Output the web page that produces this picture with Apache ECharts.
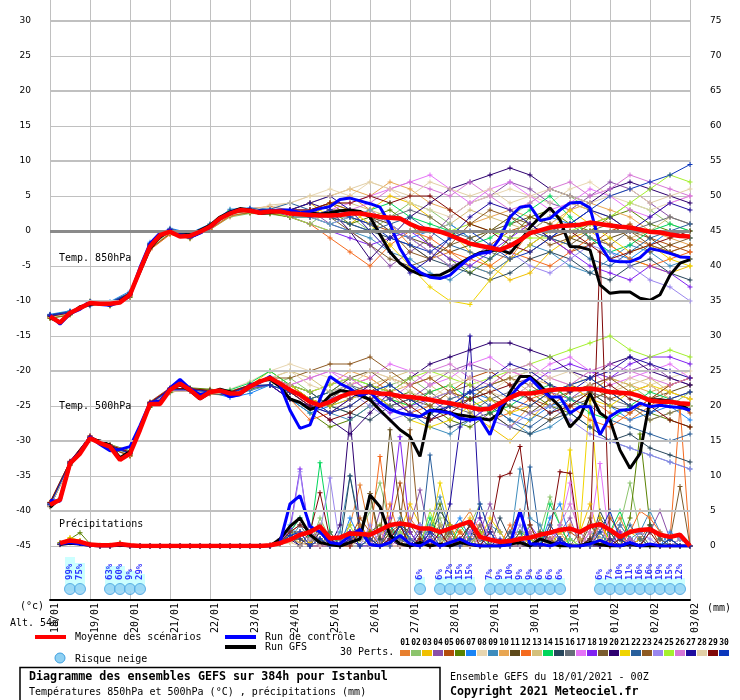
<!DOCTYPE html>
<html>
<head>
<meta charset="utf-8">
<script src="https://cdn.jsdelivr.net/npm/echarts@6/dist/echarts.min.js"></script>
<style>html,body{margin:0;padding:0;background:#fff}#main{width:740px;height:700px}</style>
</head>
<body>
<div id="main"></div>
<script>
// échéances en heures
var heures6 = [0,6,12,18,24,30,36,42,48,54,60,66,72,78,84,90,96,102,108,114,120,126,132,138,144,150,156,162,168,174,180,186,192,198,204,210,216,222,228,234,240,246,252,258,264,270,276,282,288,294,300,306,312,318,324,330,336,342,348,354,360,366,372,378,384];
var heures12 = [0,12,24,36,48,60,72,84,96,108,120,132,144,156,168,180,192,204,216,228,240,252,264,276,288,300,312,324,336,348,360,372,384];
var dates = ['18/01','19/01','20/01','21/01','22/01','23/01','24/01','25/01','26/01','27/01','28/01','29/01','30/01','31/01','01/02','02/02','03/02'];

var couleurs = ['#e77f2f','#8cc46c','#f0c000','#8b4fa8','#b34d0b','#5a8200','#1a84f5','#e8d6b0','#3d8cbd','#e8a652',
  '#5e4a1a','#f56a1e','#d4c07c','#00d65a','#27465c','#666e78','#e574f7','#8022f0','#7a5c2e','#2e0070',
  '#f0d400','#285f9c','#8e5a22','#9a86ee','#a4f02e','#d676d6','#1e0c9e','#e2cfa6','#800808','#0a37bc'];

// T850 (toutes les 6h)
var t850Moy = [-12.2,-13.1,-11.7,-11.0,-10.3,-10.4,-10.4,-10.2,-9.1,-5.6,
  -2.2,-0.6,-0.1,-0.8,-0.7,-0.1,0.6,1.8,2.5,3.0,
  2.9,2.6,2.8,2.8,2.5,2.4,2.3,2.2,2.2,2.3,
  2.5,2.5,2.3,2.0,1.9,1.8,1.0,0.4,0.2,-0.1,
  -0.6,-1.2,-1.8,-2.1,-2.4,-2.7,-2.1,-1.3,-0.3,0.1,
  0.5,0.7,0.8,0.9,1.2,1.0,0.8,0.6,0.5,0.2,
  -0.1,-0.2,-0.5,-0.7,-0.8];
var t850Ctrl = [-12.0,-13.3,-11.8,-11.2,-10.0,-10.5,-10.6,-10.2,-9.3,-5.2,
  -1.8,-0.3,0.1,-0.6,-0.9,-0.3,0.5,1.7,2.6,3.0,
  2.9,2.7,2.9,3.0,3.0,2.6,2.8,3.2,3.5,4.5,
  4.7,4.3,3.9,3.4,1.0,-2.5,-4.8,-5.9,-6.6,-6.8,
  -6.3,-5.0,-3.8,-3.2,-3.0,-1.0,2.0,3.4,3.6,1.5,
  1.8,3.0,4.0,4.1,3.3,-2.0,-4.2,-4.4,-4.4,-3.8,
  -2.5,-2.8,-3.2,-3.7,-3.8];
var t850Gfs = [-12.4,-13.0,-11.9,-10.8,-10.5,-10.2,-10.6,-10.0,-9.0,-5.8,
  -2.5,-0.8,0.0,-0.6,-0.5,0.1,0.8,2.0,2.7,3.2,
  3.0,2.5,2.6,2.9,2.7,2.5,2.6,2.4,2.6,2.9,
  3.0,2.8,2.0,-0.5,-3.0,-4.6,-5.6,-6.2,-6.4,-6.3,
  -5.6,-4.6,-3.8,-3.1,-2.8,-2.7,-3.2,-1.5,0.5,2.0,
  3.3,1.6,-2.2,-2.3,-2.7,-7.7,-8.9,-8.7,-8.7,-9.6,
  -9.9,-9.1,-6.3,-4.6,-4.1];

// T500 (toutes les 6h)
var t500Moy = [-39.1,-38.4,-33.2,-31.8,-29.6,-30.3,-30.8,-32.7,-31.8,-28.4,
  -24.7,-24.7,-22.7,-21.8,-22.7,-23.9,-23.0,-22.8,-23.2,-23.2,
  -22.2,-21.5,-21.0,-21.8,-22.7,-23.4,-24.4,-24.9,-24.4,-23.7,
  -23.2,-23.0,-23.0,-23.2,-23.3,-23.6,-23.7,-23.9,-24.1,-24.4,
  -24.6,-24.9,-25.2,-25.5,-25.4,-24.6,-23.8,-23.2,-23.2,-23.0,
  -22.7,-22.6,-22.6,-22.6,-22.5,-22.7,-23.0,-23.1,-23.2,-23.6,
  -24.2,-24.4,-24.4,-24.6,-24.7];
var t500Ctrl = [-38.5,-38.6,-33.0,-31.6,-29.4,-30.5,-31.4,-31.2,-30.8,-27.8,
  -24.5,-24.3,-22.4,-21.2,-22.5,-23.4,-23.0,-22.9,-23.7,-23.4,
  -22.0,-21.6,-20.8,-22.0,-25.6,-28.2,-27.7,-24.0,-20.8,-21.8,
  -22.5,-23.5,-23.0,-24.5,-25.5,-26.0,-26.3,-26.5,-25.6,-25.8,
  -26.0,-26.8,-27.0,-26.8,-29.1,-25.1,-23.7,-22.0,-21.0,-22.5,
  -23.7,-23.7,-26.0,-25.1,-25.1,-29.1,-26.5,-25.6,-25.5,-24.6,
  -25.1,-24.9,-25.1,-25.2,-25.6];
var t500Gfs = [-39.5,-38.2,-33.4,-31.5,-29.8,-30.0,-30.6,-32.4,-31.5,-28.0,
  -24.9,-24.5,-22.5,-22.0,-22.8,-24.0,-23.1,-22.6,-23.0,-23.3,
  -22.3,-21.4,-21.2,-22.2,-24.0,-24.5,-25.5,-25.0,-23.5,-22.8,
  -23.0,-23.5,-24.1,-25.6,-27.0,-28.4,-29.4,-32.2,-25.6,-25.6,
  -26.0,-26.3,-26.5,-26.8,-27.0,-26.0,-23.0,-20.8,-20.8,-22.0,
  -23.7,-25.1,-28.0,-26.5,-23.2,-26.0,-27.0,-31.3,-33.9,-31.8,
  -24.1,-24.1,-24.3,-24.8,-25.6];

// précipitations (mm / 6h, de 6h à 384h)
var precMoy = [0.4,0.8,0.6,0.2, 0.1,0.1,0.3,0.1, 0,0,0,0, 0,0,0,0, 0,0,0,0, 0,0.1,0.4,0.9,
  1.6,2.0,2.8,1.1, 1.2,1.8,1.7,1.6, 2.3,3.0,3.2,3.0, 2.5,2.5,2.0,2.5, 3.0,3.5,1.3,0.9,
  0.6,0.7,1.0,1.2, 1.6,1.9,2.3,2.5, 2.0,2.8,3.1,2.3, 1.3,2.0,2.3,2.4, 1.6,1.3,1.6,0.0];
var precCtrl = [0.3,0.5,0.3,0.1, 0,0,0.2,0, 0,0,0,0, 0,0,0,0, 0,0,0,0, 0,0,0.5,6.0,
  7.2,2.8,2.0,0.5, 0.3,1.5,2.4,0.2, 0,0.5,1.5,0.3, 0,0.8,0,0.5, 1,0.3,0,0,
  0,0.2,5.0,0.3, 0.3,0,0.5,0, 0,0.3,0.8,0.2, 0,0.5,0,0.3, 0,0,0,0];
var precGfs = [0.2,0.4,0.3,0.1, 0,0,0.1,0, 0,0,0,0, 0,0,0,0, 0,0,0,0, 0,0,1.0,2.8,
  4.0,1.6,0.5,0.2, 0,0.5,1.0,7.3, 5.6,1.5,0.3,0, 0.5,0,0.3,0, 0.5,0.2,0,0,
  0,0.3,0.5,0, 1,0.5,0,0, 0,0.5,0.2,0, 0,0.3,0,0, 0,0,0,0];

// 30 perturbations, T850 toutes les 12h
var t850Perts = [
 [-12.0,-11.5,-10.6,-10.2,-8.8,-2.5,0.3,-0.5,1.0,3.0,3.2,3.5, 3,2,4,5,3,1,-2,-4,-3,-5,-6,-4,0,2,4,3,1,-1,-2,-3,-2],
 [-12.4,-11.9,-10.1,-10.6,-9.4,-2.0,-0.3,-1.0,0.2,2.0,2.5,2.4, 2,1,3,2,0,2,4,3,1,-1,0,2,4,6,5,3,2,4,3,1,0],
 [-12.1,-11.6,-10.4,-10.3,-9.0,-1.8,0.2,-0.4,0.9,2.8,3.1,3.0, 3,4,2,1,3,5,4,2,0,-3,-5,-7,-6,-3,-1,0,-2,-4,-5,-6,-5],
 [-12.3,-11.8,-10.2,-10.5,-9.2,-2.4,-0.2,-0.8,0.5,2.4,2.8,2.7, 2,3,1,0,-2,-5,-3,-1,2,4,5,7,6,4,3,5,7,6,4,2,1],
 [-12.2,-11.7,-10.5,-10.4,-9.1,-2.1,0.0,-0.6,0.7,2.6,3.0,2.9, 3,3,4,2,1,0,-1,-3,-5,-4,-2,0,1,-1,-3,-2,0,1,-1,-2,-3],
 [-12.5,-12.0,-10.0,-10.7,-9.5,-2.6,-0.4,-1.1,0.3,2.2,2.6,2.5, 2,2,3,1,2,3,1,-2,-4,-6,-4,-1,2,3,1,0,2,3,1,0,-1],
 [-11.9,-11.4,-10.7,-10.1,-8.6,-1.6,0.4,-0.3,1.0,3.1,3.3,3.1, 3,2,2,3,2,0,-1,0,1,-1,-3,-2,0,2,1,-1,-3,-4,-2,0,-1],
 [-12.2,-11.8,-10.3,-10.5,-9.1,-2.3,0.1,-0.7,0.6,2.7,3.2,3.4, 4,5,6,5,7,6,4,3,2,4,5,6,5,4,6,7,5,4,3,4,5],
 [-12.0,-11.6,-10.5,-10.2,-9.0,-2.0,0.0,-0.6,0.8,2.5,2.9,2.8, 2,2,1,0,-1,-3,-4,-6,-7,-5,-6,-4,-2,-3,-5,-6,-4,-2,-3,-5,-4],
 [-12.3,-11.7,-10.4,-10.4,-9.3,-2.2,-0.2,-0.8,0.5,2.4,2.9,2.9, 3,4,5,6,5,7,6,4,3,1,2,3,2,1,3,4,3,2,0,-1,-2],
 [-12.1,-11.7,-10.3,-10.3,-9.0,-2.1,0.0,-0.6,0.7,2.6,3.0,2.8, 3,2,3,3,2,1,-1,-2,-3,-2,0,1,2,1,-1,-2,-1,0,-1,-3,-4],
 [-12.4,-11.9,-10.6,-10.6,-9.4,-2.7,-0.5,-1.0,0.2,2.1,2.7,2.6, 2,1,-1,-3,-5,-2,0,-1,-3,-4,-5,-3,-4,-5,-3,-1,-2,-4,-5,-4,-3],
 [-12.2,-11.6,-10.3,-10.4,-9.1,-2.0,0.2,-0.5,0.8,2.7,3.0,2.9, 3,3,4,4,3,2,1,0,1,3,2,1,0,2,4,3,1,-1,0,2,1],
 [-12.0,-11.5,-10.5,-10.2,-8.9,-1.9,0.1,-0.6,0.9,2.9,3.1,3.0, 3,2,1,2,3,4,2,1,0,-2,-1,1,3,5,2,-1,-3,-2,0,1,0],
 [-12.3,-11.8,-10.2,-10.5,-9.2,-2.3,-0.1,-0.7,0.5,2.4,2.8,2.7, 2,3,2,1,0,-1,-2,-4,-5,-6,-7,-6,-4,-3,-4,-6,-7,-5,-4,-6,-7],
 [-12.1,-11.7,-10.4,-10.3,-9.0,-2.1,-0.1,-0.7,0.6,2.5,2.9,2.8, 3,3,2,2,1,2,3,2,0,-1,-3,-4,-2,0,1,-1,-2,0,1,2,1],
 [-12.2,-11.8,-10.3,-10.4,-9.2,-2.2,0.0,-0.7,0.6,2.6,3.0,2.9, 3,2,3,4,5,6,7,8,6,4,6,7,5,3,4,6,5,3,2,4,5],
 [-12.0,-11.6,-10.5,-10.3,-9.0,-1.9,0.1,-0.5,0.8,2.7,3.1,3.0, 2,1,0,-1,-2,-1,0,-2,-4,-5,-3,-1,1,-1,-3,-5,-6,-7,-5,-6,-8],
 [-12.3,-11.7,-10.2,-10.5,-9.2,-2.4,-0.2,-0.9,0.4,2.3,2.8,2.7, 3,3,2,0,-2,-4,-5,-4,-2,-1,0,2,1,-1,-2,0,1,-1,-3,-2,-1],
 [-12.1,-11.6,-10.4,-10.3,-9.0,-2.0,0.1,-0.6,0.7,2.6,3.0,2.9, 3,4,3,0,-4,-1,2,4,6,7,8,9,8,6,5,4,6,7,6,5,4],
 [-12.2,-11.7,-10.3,-10.4,-9.1,-2.2,0.0,-0.7,0.6,2.5,2.9,2.8, 3,2,4,3,1,-2,-5,-8,-10,-10.5,-7,-4,-2,0,3,1,-1,-3,-2,-4,-5],
 [-12.0,-11.5,-10.6,-10.2,-8.8,-1.8,0.3,-0.4,0.9,2.8,3.2,3.1, 4,3,2,1,0,1,2,0,-2,-3,-4,-2,0,-1,-2,-4,-5,-3,-1,0,1],
 [-12.4,-11.9,-10.2,-10.6,-9.3,-2.5,-0.3,-0.9,0.4,2.3,2.7,2.6, 2,3,4,3,2,0,-3,-4,-2,1,3,2,0,-2,-1,1,2,0,-2,-3,-2],
 [-12.1,-11.6,-10.4,-10.3,-9.0,-2.0,0.1,-0.6,0.7,2.6,3.0,2.9, 3,2,1,2,3,1,-1,-3,-5,-4,-2,-3,-5,-6,-4,-2,-3,-5,-7,-8,-10],
 [-12.3,-11.8,-10.3,-10.5,-9.2,-2.3,-0.1,-0.8,0.5,2.4,2.8,2.7, 2,1,0,0,0,0,0,0,0,1,0,-1,-1,-1,0,1,2,4,6,8,7],
 [-12.2,-11.7,-10.3,-10.4,-9.1,-2.1,0.0,-0.6,0.7,2.6,3.0,2.9, 3,3,2,3,4,6,7,6,5,7,5,3,4,6,7,5,6,8,7,6,5],
 [-12.0,-11.6,-10.5,-10.3,-8.9,-1.9,0.2,-0.5,0.8,2.7,3.1,3.0, 3,4,5,3,0,-3,-6,-4,-1,2,4,3,1,-1,1,3,2,0,2,4,3],
 [-12.3,-11.8,-10.2,-10.5,-9.3,-2.4,-0.2,-0.8,0.4,2.3,2.8,3.7, 4,5,5,6,7,6,5,7,6,5,6,4,5,6,5,4,5,6,4,5,6],
 [-12.2,-11.7,-10.4,-10.4,-9.1,-2.2,0.0,-0.7,0.6,2.5,2.9,2.8, 3,3,4,4,5,4,5,5,3,1,0,-2,-3,-1,0,-2,-4,-3,-2,-1,0],
 [-12.1,-11.6,-10.3,-10.3,-9.0,-2.1,0.0,-0.6,0.7,2.6,3.0,2.9, 3,2,3,2,1,-1,-2,-3,-1,0,-2,-4,-3,-1,1,3,5,6,7,8,9.5]
];

// 30 perturbations, T500 toutes les 12h
var t500Perts = [
 [-38.8,-33.0,-29.4,-31.0,-32.2,-24.5,-22.5,-22.9,-23.3,-23.5,-21.9, -21,-23,-25,-24,-22,-21,-23,-26,-27,-25,-24,-26,-28,-25,-23,-22,-24,-26,-27,-25,-23,-24],
 [-39.4,-33.4,-29.8,-30.6,-31.5,-25.0,-22.9,-22.5,-22.8,-23.0,-22.5, -22,-21,-23,-25,-26,-24,-22,-21,-23,-25,-24,-22,-21,-20,-22,-24,-23,-21,-22,-24,-25,-23],
 [-39.0,-33.1,-29.5,-30.9,-31.9,-24.6,-22.6,-22.6,-22.9,-23.1,-22.1, -20,-22,-24,-25,-23,-22,-24,-25,-23,-22,-26,-28,-30,-27,-24,-22,-21,-23,-25,-27,-26,-25],
 [-39.2,-33.3,-29.7,-30.7,-31.7,-24.8,-22.8,-22.8,-23.1,-23.4,-22.4, -21,-22,-23,-22,-21,-23,-25,-24,-22,-20,-19,-20,-22,-21,-23,-24,-22,-21,-20,-19,-21,-22],
 [-38.9,-33.0,-29.3,-31.1,-32.0,-24.4,-22.4,-22.6,-22.7,-22.9,-22.0, -21,-23,-24,-26,-25,-23,-21,-22,-24,-23,-21,-20,-22,-24,-25,-23,-22,-24,-23,-22,-24,-26],
 [-39.3,-33.5,-29.9,-30.5,-31.4,-25.2,-23.1,-22.4,-22.6,-23.3,-22.6, -22,-24,-26,-28,-27,-25,-24,-23,-25,-27,-28,-26,-24,-23,-25,-26,-24,-23,-25,-26,-27,-28],
 [-39.0,-33.2,-29.6,-30.8,-31.8,-24.7,-22.7,-22.7,-23.0,-23.8,-23.2, -22,-24,-26,-25,-24,-23,-22,-24,-26,-25,-23,-24,-26,-27,-25,-24,-23,-25,-27,-26,-25,-27],
 [-39.1,-33.3,-29.6,-30.8,-31.7,-24.6,-22.8,-22.8,-22.9,-22.6,-21.5, -20,-19,-20,-21,-22,-20,-21,-22,-21,-20,-22,-23,-21,-20,-21,-22,-20,-21,-23,-22,-21,-20],
 [-39.2,-33.1,-29.5,-30.9,-31.9,-24.8,-22.6,-22.8,-23.2,-23.5,-22.8, -22,-23,-25,-26,-27,-25,-24,-26,-28,-29,-27,-25,-27,-29,-28,-26,-28,-30,-31,-32,-33,-34],
 [-38.7,-33.0,-29.4,-30.6,-31.6,-24.5,-22.5,-22.5,-22.8,-23.0,-22.0, -21,-22,-23,-22,-20,-21,-23,-22,-21,-23,-24,-22,-20,-21,-22,-24,-23,-21,-22,-23,-22,-21],
 [-39.3,-33.4,-29.8,-31.0,-32.0,-24.9,-22.9,-22.9,-23.2,-23.4,-22.4, -21,-23,-24,-25,-23,-22,-23,-24,-26,-25,-24,-23,-25,-26,-24,-22,-23,-25,-26,-24,-23,-22],
 [-39.0,-33.2,-29.7,-30.8,-31.8,-24.7,-22.7,-22.6,-22.9,-23.1,-22.1, -22,-24,-27,-26,-24,-22,-24,-26,-25,-23,-25,-27,-26,-24,-23,-25,-27,-28,-26,-24,-22,-21],
 [-39.4,-33.5,-29.9,-30.6,-31.5,-24.9,-22.8,-22.8,-23.1,-23.2,-22.3, -21,-20,-21,-23,-24,-22,-21,-20,-22,-24,-23,-22,-21,-23,-24,-22,-21,-23,-22,-21,-23,-24],
 [-38.9,-33.1,-29.5,-30.9,-31.9,-24.6,-22.6,-22.6,-22.8,-22.7,-21.7, -20,-22,-24,-23,-21,-22,-24,-25,-23,-22,-24,-26,-25,-23,-22,-24,-26,-27,-25,-23,-24,-25],
 [-39.1,-33.2,-29.6,-30.8,-31.8,-24.7,-22.7,-22.7,-23.0,-23.3,-22.2, -21,-22,-23,-25,-26,-27,-25,-24,-26,-28,-27,-26,-28,-29,-27,-26,-28,-30,-29,-31,-32,-33],
 [-39.2,-33.3,-29.7,-30.7,-31.7,-24.7,-22.8,-22.8,-23.0,-23.1,-22.2, -21,-23,-25,-24,-22,-23,-25,-24,-23,-25,-26,-24,-23,-24,-26,-25,-23,-24,-25,-27,-26,-25],
 [-39.0,-33.1,-29.6,-30.8,-31.8,-24.6,-22.6,-22.7,-23.0,-23.2,-22.1, -21,-22,-21,-20,-22,-21,-19,-20,-22,-21,-19,-18,-20,-21,-19,-18,-20,-22,-21,-20,-19,-21],
 [-39.3,-33.4,-29.8,-30.7,-31.6,-24.8,-22.8,-22.9,-23.1,-23.3,-22.4, -22,-24,-25,-24,-23,-24,-26,-25,-24,-26,-27,-25,-24,-22,-20,-19,-20,-21,-19,-18,-18,-19],
 [-38.8,-33.0,-29.4,-31.0,-32.1,-24.5,-22.5,-22.5,-22.8,-23.0,-22.0, -21,-22,-24,-23,-21,-20,-22,-24,-25,-23,-22,-24,-25,-26,-27,-25,-24,-23,-25,-26,-24,-23],
 [-39.1,-33.2,-29.6,-30.8,-31.8,-24.7,-22.7,-22.7,-23.0,-23.2,-22.2, -21,-23,-25,-27,-29,-26,-23,-21,-19,-18,-17,-16,-16,-17,-18,-20,-21,-19,-18,-20,-21,-22],
 [-39.2,-33.3,-29.7,-30.9,-31.9,-24.8,-22.8,-22.8,-23.1,-23.3,-22.3, -21,-22,-24,-25,-24,-23,-25,-27,-28,-27,-25,-24,-26,-25,-23,-22,-24,-25,-23,-22,-23,-24],
 [-39.0,-33.1,-29.5,-30.7,-31.7,-24.6,-22.6,-22.6,-22.9,-23.1,-22.1, -22,-23,-24,-23,-22,-24,-25,-27,-26,-24,-23,-25,-27,-28,-26,-24,-25,-27,-28,-29,-30,-29],
 [-39.3,-33.4,-29.8,-30.9,-31.9,-24.9,-22.9,-22.8,-23.1,-23.2,-22.3, -21,-21,-20,-19,-19,-18,-20,-22,-21,-23,-24,-22,-21,-22,-24,-23,-22,-21,-23,-24,-22,-21],
 [-38.9,-33.0,-29.4,-30.6,-31.6,-24.5,-22.5,-22.6,-22.9,-23.1,-22.0, -21,-23,-25,-24,-23,-25,-27,-26,-24,-23,-25,-27,-28,-26,-25,-27,-29,-30,-31,-32,-33,-34],
 [-39.1,-33.2,-29.6,-30.8,-31.8,-24.7,-22.7,-22.7,-23.0,-23.2,-22.2, -21,-22,-23,-22,-21,-22,-23,-21,-20,-21,-22,-21,-20,-19,-18,-17,-16,-15,-17,-18,-17,-18],
 [-39.2,-33.3,-29.7,-30.8,-31.8,-24.8,-22.8,-22.8,-23.0,-23.2,-22.2, -21,-22,-21,-20,-21,-23,-24,-22,-20,-19,-21,-22,-20,-19,-21,-22,-20,-19,-20,-21,-22,-21],
 [-39.0,-33.1,-29.5,-30.7,-31.7,-24.6,-22.6,-22.6,-22.9,-23.1,-22.1, -22,-24,-25,-26,-24,-22,-24,-26,-27,-25,-23,-21,-19,-20,-22,-23,-21,-20,-18,-19,-20,-21],
 [-39.3,-33.4,-29.8,-30.9,-31.9,-24.9,-22.9,-22.9,-23.1,-23.3,-22.3, -21,-20,-22,-23,-22,-20,-21,-23,-24,-22,-21,-23,-24,-22,-21,-20,-22,-23,-21,-22,-24,-25],
 [-38.8,-32.9,-29.3,-30.6,-31.6,-24.5,-22.5,-22.5,-22.8,-23.0,-22.0, -21,-23,-25,-27,-26,-24,-23,-25,-27,-26,-24,-23,-22,-24,-26,-25,-23,-22,-24,-25,-27,-28],
 [-39.1,-33.2,-29.6,-30.8,-31.8,-24.7,-22.7,-22.7,-23.0,-23.2,-22.2, -22,-23,-24,-26,-25,-23,-22,-24,-26,-25,-23,-22,-24,-25,-23,-22,-21,-23,-25,-26,-24,-23]
];

// 30 perturbations, précipitations toutes les 6h (de 6h à 384h)
var precPerts = [
 [0.3,0.8,0.6,0.2, 0,0,0.3,0, 0,0,0,0, 0,0,0,0, 0,0,0,0, 0,0,0.5,2, 3,1,0,0, 1,3,8.7,2, 0,6,1,4, 2,0,0,1, 3,5,2,0, 0,0,1,2, 0,0,1,3, 1,0,0,2, 4,1,0,0, 1,0,0,0],
 [0.2,0.9,0.7,0.1, 0,0.1,0.4,0, 0,0,0,0, 0,0,0,0, 0,0,0,0, 0,0,0.3,1, 2,0,4,1, 0,0,2,5, 9,3,0,0, 1,2,4,0, 0,3,6,2, 0,0,0,1, 2,7,3,0, 0,1,2,0, 3,9,2,0, 0,1,0,0],
 [0.4,1.2,0.8,0.2, 0,0,0.5,0.1, 0,0,0,0, 0,0,0,0, 0,0,0,0, 0,0,0.8,1.5, 1,0.5,2,0, 0,1,3,1, 0,0,2,6, 3,1,0,0, 2,4,1,0, 0,1,0,0, 0,3,1,0, 2,6,1,0, 0,2,1,0, 0,0,1,0],
 [0.2,0.6,0.4,0.1, 0,0,0.2,0, 0,0,0,0, 0,0,0,0, 0,0,0,0, 0,0.2,1,2, 4,2,1,0, 0,2,1,0, 5,2,0,3, 8,1,0,0, 1,0,2,6, 2,0,0,1, 0,0,2,4, 0,1,0,0, 3,1,0,2, 5,1,0,0],
 [0.3,0.7,0.5,0.2, 0,0,0.3,0, 0,0,0,0, 0,0,0,0, 0,0,0,0, 0,0,0.4,1, 2,1,0,0.5, 0,1,4,2, 0,3,9,2, 0,1,0,3, 2,0,1,0, 0,2,5,1, 0,0,0,2, 1,0,0,4, 2,0,1,3, 0,0,0,0],
 [0.5,1.0,1.9,0.3, 0.1,0,0.4,0, 0,0,0,0, 0,0,0,0, 0,0,0,0, 0,0.1,0.6,2, 1,0,0,0, 0,0,1,2, 3,1,0,0, 0,2,6,1, 0,0,1,3, 0,0,0,0, 1,2,0,0, 0,0,3,1, 0,4,16,3, 1,0,0,0],
 [0.2,0.5,0.4,0.1, 0,0,0.2,0, 0,0,0,0, 0,0,0,0, 0,0,0,0, 0,0,0.6,3, 1,0,0,2, 0,4,1,0, 0,1,2,0, 3,1,0,2, 4,1,0,0, 0,0,2,1, 0,4,6,1, 0,0,1,2, 0,0,1,0, 0,2,1,0],
 [0.1,0.4,0.3,0, 0,0,0.1,0, 0,0,0,0, 0,0,0,0, 0,0,0,0, 0,0,0.2,0.5, 1,0,0,0, 0,1,0,0, 0,0,1,0, 0,0,2,0, 0,1,0,0, 0,0,0,0, 0,1,0,0, 0,0,2,0, 1,0,0,0, 0,0,0,0],
 [0.3,0.8,0.5,0.1, 0,0,0.3,0, 0,0,0,0, 0,0,0,0, 0,0,0,0, 0,0,0.5,1, 3,1,0,0, 2,10,3,0, 0,2,4,1, 0,3,7,2, 1,0,0,3, 2,0,11,4, 3,0,0,1, 0,2,1,0, 3,1,2,5, 2,0,1,0],
 [0.2,0.7,0.6,0.2, 0,0,0.2,0, 0,0,0,0, 0,0,0,0, 0,0,0,0, 0,0,0.3,1, 0.5,0,0,0, 0,0,1,0, 0,0,0,2, 0,0,1,0, 0,2,0,0, 0,0,0,0, 1,0,0,0, 0,2,0,0, 0,0,1,0, 0,0,0,0],
 [0.3,0.9,0.6,0.2, 0,0,0.3,0, 0,0,0,0, 0,0,0,0, 0,0,0,0, 0,0,0.4,2, 2,0,1,0, 0,1,2,7.5, 1,16.6,5,0, 0,1,3,1, 0,0,2,0, 0,1,0,0, 2,1,0,0, 0,0,4,2, 0,1,0,0, 0,1,0,0],
 [0.2,0.6,0.5,0.1, 0,0,0.2,0, 0,0,0,0, 0,0,0,0, 0,0,0,0, 0,0,0.5,1, 2,0,1,0, 0,0,3,1, 12.8,2,0,0, 0,1,0,0, 2,1,3,0, 0,3,1,0, 0,1,2,0, 0,1,3,1, 0,2,5,4, 2,1,20,0],
 [0.3,0.7,0.5,0.2, 0,0,0.3,0, 0,0,0,0, 0,0,0,0, 0,0,0,0, 0,0,0.3,0.5, 1,0,0,1, 0,0,1,0, 2,0,0,1, 0,0,3,0, 0,1,0,0, 0,0,1,0, 0,0,2,0, 1,0,0,0, 0,1,0,0, 0,0,0,0],
 [0.2,0.8,0.6,0.1, 0,0,0.3,0, 0,0,0,0, 0,0,0,0, 0,0,0,0, 0,0,0.4,2, 4,1,11.9,2, 0,0,1,0, 2,3,0,1, 0,4,1,0, 3,1,0,0, 0,0,2,1, 0,6,3,0, 0,1,0,2, 5,1,0,0, 0,0,1,0],
 [0.3,0.6,0.4,0.1, 0,0,0.2,0, 0,0,0,0, 0,0,0,0, 0,0,0,0, 0,0,0.5,1.5, 0,2,0,1, 0,10,2,0, 1,0,3,2, 0,1,5,3, 0,2,1,0, 4,1,0,0, 0,2,1,0, 0,0,5,2, 1,0,0,3, 1,0,0,0],
 [0.2,0.6,0.5,0.1, 0,0,0.2,0, 0,0,0,0, 0,0,0,0, 0,0,0,0, 0,0,0.3,1, 2,0,0,0, 1,0,0,1, 0,2,1,0, 0,0,1,2, 0,0,3,0, 0,1,0,0, 0,0,1,0, 2,0,0,1, 0,0,2,0, 1,0,0,0],
 [0.3,0.8,0.7,0.2, 0,0,0.3,0, 0,0,0,0, 0,0,0,0, 0,0,0,0, 0,0,0.3,1, 2,0,0,1, 0,2,0,0, 0,0,1,0, 3,0,0,1, 0,2,4,1, 0,0,1,0, 0,0,3,9, 0,2,11.8,0, 0,1,0,0, 0,0,1,0],
 [0.2,0.7,0.5,0.1, 0,0,0.2,0, 0,0,0,0, 0,0,0,0, 0,0,0,0, 0,0,0.6,2.5, 11,1,0,0, 0,2,0,1, 0,4,15.6,2, 0,1,0,0, 1,0,0,2, 0,0,0,3, 1,0,0,0, 0,0,1,0, 2,0,1,0, 0,0,0,0],
 [0.3,0.8,0.6,0.2, 0,0,0.3,0, 0,0,0,0, 0,0,0,0, 0,0,0,0, 0,0,0.4,1, 1,0,0,2, 0,0,1,7.5, 0,2,0,3, 1,0,2,0, 0,3,1,0, 0,0,2,0, 0,1,0,0, 0,3,1,0, 0,0,1,0, 0,1,8.5,0],
 [0.2,0.6,0.4,0.1, 0,0,0.2,0, 0,0,0,0, 0,0,0,0, 0,0,0,0, 0,0,0.3,1, 0,1,0,0, 3,18.4,2,0, 0,1,0,0, 2,0,0,0, 0,1,0,0, 0,0,0,0, 0,0,1,0, 0,0,0,0, 0,1,0,0, 0,0,0,0],
 [0.4,1.1,0.8,0.2, 0,0.1,0.4,0, 0,0,0,0, 0,0,0,0, 0,0,0,0, 0,0,0.5,1, 2,0,1,0, 0,0,2,1, 0,3,1,0, 0,2,9,3, 0,0,1,4, 2,0,0,1, 0,0,2,13.7, 2,21.8,4,0, 0,0,1,0, 0,0,0,0],
 [0.3,0.7,0.5,0.1, 0,0,0.3,0, 0,0,0,0, 0,0,0,0, 0,0,0,0, 0,0,0.5,1.5, 2,0,1,0, 0,1,2,0, 0,3,1,0, 0,13,2,0, 0,3,1,0, 0,2,0,11.3, 1,0,0,0, 0,1,2,0, 0,3,1,0, 0,1,0,0],
 [0.3,0.8,0.6,0.2, 0,0,0.3,0, 0,0,0,0, 0,0,0,0, 0,0,0,0, 0,0,0.4,1, 1,0,3,0, 0,0,2,1, 0,2,3,16.6, 1,0,0,2, 0,1,0,0, 0,0,1,2, 0,1,0,0, 0,4,0,0, 1,0,0,0, 0,0,0,0],
 [0.2,0.6,0.5,0.1, 0,0,0.2,0, 0,0,0,0, 0,0,0,0, 0,0,0,0, 0,0,0.5,2, 10.6,1,2,9.7, 0,1,0,3, 0,1,2,0, 3,1,0,0, 0,2,0,1, 0,0,3,0, 0,2,1,0, 0,0,1,0, 0,0,2,1, 0,0,0,0],
 [0.2,0.5,0.4,0.1, 0,0,0.2,0, 0,0,0,0, 0,0,0,0, 0,0,0,0, 0,0,0.3,1, 1,0,2,0, 0,3,0,1, 0,0,2,1, 0,5,1,0, 0,0,2,0, 0,0,1,3, 0,0,0,1, 0,0,1,0, 0,0,0,0, 0,0,0,0],
 [0.3,0.7,0.5,0.1, 0,0,0.3,0, 0,0,0,0, 0,0,0,0, 0,0,0,0, 0,0,0.4,1, 2,0,0,0, 0,0,1,0, 2,0,0,1, 0,2,0,0, 0,0,1,3, 0,0,0,2, 0,1,3,6, 2,0,3,0, 0,1,0,0, 0,0,0,0],
 [0.2,0.6,0.4,0.1, 0,0,0.2,0, 0,0,0,0, 0,0,0,0, 0,0,0,0, 0,0,0.5,1, 1,0,2,0, 0,1,0,0, 0,1,3,0, 0,2,1,6, 17,30,4,0, 1,0,0,0, 0,0,1,0, 0,0,0,1, 0,0,0,0, 0,0,0,0],
 [0.3,0.8,0.6,0.2, 0,0,0.3,0, 0,0,0,0, 0,0,0,0, 0,0,0,0, 0,0,0.3,0.5, 0,1,0,0, 0,0,1,0, 0,0,0,1, 0,0,1,0, 0,1,0,0, 0,0,0,0, 1,0,0,0, 0,0,1,0, 0,0,0,0, 0,0,0,0],
 [0.2,0.6,0.5,0.1, 0,0,0.2,0, 0,0,0,0, 0,0,0,0, 0,0,0,0, 0,0,0.5,2, 3,2,7.6,1, 0,0,2,1, 0,1,3,0, 1,0,2,0, 1,3,0,2, 9.9,10.4,14.2,3, 0,2,10.6,10.4, 0,1,42,0, 1,0,0,2, 0,0,0,0],
 [0.3,0.8,0.6,0.2, 0,0,0.3,0, 0,0,0,0, 0,0,0,0, 0,0,0,0, 0,0,0.4,1.5, 2,0,1,0, 0,2,0,1, 0,0,3,1, 0,2,0,0, 0,1,6,2, 0,0,1,0, 0,3,1,0, 0,0,2,5, 1,0,0,0, 0,1,0,0]
];

// risque neige
var neigeHeures = [12,18,36,42,48,54,222,234,240,246,252,264,270,276,282,288,294,300,306,330,336,342,348,354,360,366,372,378];
var neigePct = [99,75,63,60,9,29,6,6,12,15,15,7,9,10,9,9,6,6,6,6,7,10,11,16,16,19,15,12];
var neigeBarre = [26,20,17,17,12,9,6,6,6,6,6,5,5,5,5,5,5,5,5,5,5,5,5,5,5,5,5,5];

var lignesFortes = [-40,-30,-20,-10,10,20,30];

var mono = '"DejaVu Sans Mono", monospace';
var croix = 'path://M2,0H3V2H5V3H3V5H2V3H0V2H2Z';

function serie(h, vals, decal, couleur, largeur, yIdx, z, marque) {
  return {
    type: 'line', xAxisIndex: 0, yAxisIndex: yIdx,
    data: vals.map(function (v, i) { return [h[i + decal], v]; }),
    symbol: marque ? croix : 'none', symbolSize: 5, showSymbol: !!marque,
    lineStyle: { color: couleur, width: largeur }, itemStyle: { color: couleur },
    z: z, silent: true, animation: false
  };
}

var series = [];
series.push({
  type: 'line', xAxisIndex: 0, yAxisIndex: 0, data: [], z: 1, silent: true,
  markLine: {
    silent: true, symbol: ['none', 'none'], label: { show: false }, animation: false,
    lineStyle: { color: '#c0c0c0', width: 2, type: 'solid' },
    data: lignesFortes.map(function (v) { return { yAxis: v }; }).concat([
      { yAxis: 0, lineStyle: { color: '#8a8a8a', width: 3, type: 'solid' } }
    ])
  }
});
for (var m = 0; m < 30; m++) {
  series.push(serie(heures12, t850Perts[m], 0, couleurs[m], 1, 0, 2, true));
  series.push(serie(heures12, t500Perts[m], 0, couleurs[m], 1, 0, 2, true));
  series.push(serie(heures6, precPerts[m], 1, couleurs[m], 1, 1, 2, true));
}
[[t850Gfs, t500Gfs, precGfs, '#000000', 3, 3], [t850Ctrl, t500Ctrl, precCtrl, '#0000ff', 3, 4], [t850Moy, t500Moy, precMoy, '#ff0000', 4.5, 5]].forEach(function (r) {
  series.push(serie(heures6, r[0], 0, r[3], r[4], 0, r[5], false));
  series.push(serie(heures6, r[1], 0, r[3], r[4], 0, r[5], false));
  series.push(serie(heures6, r[2], 1, r[3], r[4], 1, r[5], false));
});

// barres cyan et flocons du risque neige
series.push({
  type: 'custom', xAxisIndex: 2, yAxisIndex: 3, silent: true, animation: false, z: 1,
  data: neigeHeures.map(function (h, i) { return [h, neigeBarre[i] + 17]; }),
  renderItem: function (params, api) {
    var haut = api.coord([api.value(0), api.value(1)]);
    var bas = api.coord([api.value(0), 9]);
    return { type: 'rect', shape: { x: haut[0] - 5, y: haut[1], width: 10, height: bas[1] - haut[1] },
      style: { fill: '#ccffff' } };
  }
});
series.push({
  type: 'scatter', xAxisIndex: 2, yAxisIndex: 3, silent: true, animation: false, z: 3,
  symbol: 'circle', symbolSize: 11,
  itemStyle: { color: '#8fd0f2', borderColor: '#3fa0e0', borderWidth: 1 },
  data: neigeHeures.map(function (h) { return [h, 11]; }),
  label: {
    show: true, position: 'top', distance: 3, rotate: 90, align: 'left', verticalAlign: 'middle',
    color: '#0000ff', fontFamily: mono, fontSize: 9, fontWeight: 'bold',
    formatter: function (p) { return neigePct[p.dataIndex] + '%'; }
  }
});

var graphiques = [];
function texte(t, x, y, taille, gras, couleur) {
  graphiques.push({ type: 'text', z: 100, style: { text: t, x: x, y: y, fill: couleur || '#000',
    font: (gras ? 'bold ' : '') + taille + 'px ' + mono, verticalAlign: 'middle', align: 'left' } });
}
function trait(x1, y1, x2, y2, couleur, l) {
  graphiques.push({ type: 'line', z: 100, shape: { x1: x1, y1: y1, x2: x2, y2: y2 }, style: { stroke: couleur, lineWidth: l } });
}
texte('Temp. 850hPa', 59, 258, 10);
texte('Temp. 500hPa', 59, 406, 10);
texte('Précipitations', 59, 524, 10);
texte('(°c)', 20, 606, 10);
texte('Alt. 54m', 10, 623, 10);
texte('(mm)', 707, 608, 10);
trait(35, 637, 66, 637, '#ff0000', 4);
texte('Moyenne des scénarios', 75, 637, 10);
trait(225, 637, 256, 637, '#0000ff', 4);
texte('Run de contrôle', 265, 637, 10);
trait(225, 647, 256, 647, '#000000', 4);
texte('Run GFS', 265, 647, 10);
graphiques.push({ type: 'circle', z: 100, shape: { cx: 60, cy: 658, r: 5 }, style: { fill: '#8fd0f2', stroke: '#3fa0e0', lineWidth: 1 } });
texte('Risque neige', 75, 659, 10);
texte('30 Perts.', 340, 652, 10);
couleurs.forEach(function (c, i) {
  graphiques.push({ type: 'rect', z: 100, shape: { x: 400 + 11 * i, y: 650, width: 10, height: 6 }, style: { fill: c } });
  graphiques.push({ type: 'text', z: 100, style: { text: (i < 9 ? '0' : '') + (i + 1), x: 405 + 11 * i, y: 643,
    fill: '#000', font: 'bold 8px ' + mono, align: 'center', verticalAlign: 'middle' } });
});
graphiques.push({ type: 'rect', z: 100, shape: { x: 20, y: 667.5, width: 420, height: 34 }, style: { fill: '#fff', stroke: '#000', lineWidth: 1.5 } });
texte('Diagramme des ensembles GEFS sur 384h pour Istanbul', 29, 677, 11.7, true);
texte('Températures 850hPa et 500hPa (°C) , précipitations (mm)', 29, 692, 10);
texte('Ensemble GEFS du 18/01/2021 - 00Z', 450, 677, 10);
texte('Copyright 2021 Meteociel.fr', 450, 692, 11.6, true);

var myChart = echarts.init(document.getElementById('main'));
var option = {
  backgroundColor: '#ffffff',
  animation: false,
  grid: [
    { left: 50, right: 50, top: 21, height: 525 },
    { left: 50, right: 50, top: 0, height: 600 },
    { left: 50, right: 50, top: 546, height: 54 }
  ],
  xAxis: [
    { gridIndex: 0, type: 'value', min: 0, max: 384, show: false },
    { gridIndex: 1, type: 'value', min: 0, max: 384, interval: 24,
      axisLine: { show: true, onZero: false, lineStyle: { color: '#000', width: 2 } },
      axisTick: { show: false },
      splitLine: { show: true, lineStyle: { color: '#c0c0c0', width: 1 } },
      axisLabel: { rotate: 90, margin: 3, verticalAlign: 'top', color: '#000', fontFamily: mono, fontSize: 10,
        formatter: function (v) { return dates[Math.round(v / 24)]; } } },
    { gridIndex: 2, type: 'value', min: 0, max: 384, show: false }
  ],
  yAxis: [
    { gridIndex: 0, type: 'value', position: 'left', min: -45, max: 30, interval: 5,
      axisLine: { show: false }, axisTick: { show: false },
      splitLine: { show: true, lineStyle: { color: '#c0c0c0', width: 1 } },
      axisLabel: { margin: 19, color: '#000', fontFamily: 'DejaVu Sans', fontSize: 9 } },
    { gridIndex: 0, type: 'value', position: 'right', min: 0, max: 75, interval: 5,
      axisLine: { show: false }, axisTick: { show: false }, splitLine: { show: false },
      axisLabel: { margin: 20, color: '#000', fontFamily: 'DejaVu Sans', fontSize: 9 } },
    { gridIndex: 1, type: 'value', min: 0, max: 1, show: false },
    { gridIndex: 2, type: 'value', min: 0, max: 54, show: false }
  ],
  series: series,
  graphic: graphiques
};
myChart.setOption(option);
</script>
</body>
</html>
